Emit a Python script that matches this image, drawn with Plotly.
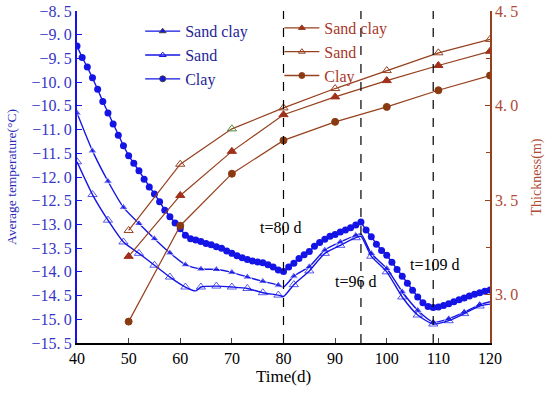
import plotly.graph_objects as go

# ---------------- data ----------------
# Average temperature (left axis)
clay_t = list(range(40, 121))
clay_temp = [-9.24, -9.48, -9.68, -9.91, -10.15, -10.41, -10.65, -10.88, -11.12, -11.34,
             -11.55, -11.71, -11.87, -12.05, -12.21, -12.36, -12.52, -12.70, -12.84, -12.97,
             -13.09, -13.23, -13.30, -13.33, -13.36, -13.40, -13.43, -13.47, -13.50, -13.56,
             -13.61, -13.66, -13.70, -13.74, -13.77, -13.79, -13.81, -13.85, -13.90, -13.96,
             -13.99, -13.90, -13.82, -13.72, -13.64, -13.57, -13.46, -13.38, -13.31, -13.25,
             -13.21, -13.16, -13.12, -13.07, -13.01, -12.95, -13.12, -13.26, -13.42, -13.55,
             -13.65, -13.80, -13.95, -14.09, -14.24, -14.39, -14.53, -14.65, -14.73, -14.75,
             -14.74, -14.71, -14.67, -14.63, -14.59, -14.55, -14.51, -14.47, -14.44, -14.41,
             -14.38]

sandclay_t = [40, 43, 46, 49, 52, 55, 58, 61, 64, 67, 70, 73, 76, 79, 80, 82, 85, 88, 91, 94, 95,
              97, 100, 103, 106, 109, 112, 115, 118, 120]
sandclay_temp = [-10.65, -11.45, -12.09, -12.64, -12.98, -13.30, -13.60, -13.85, -13.94, -13.95,
                 -14.01, -14.11, -14.20, -14.28, -14.32, -14.09, -13.89, -13.54, -13.37, -13.23,
                 -13.20, -13.61, -13.93, -14.42, -14.81, -15.06, -14.99, -14.85, -14.69, -14.63]

sand_t = [40, 43, 46, 49, 52, 55, 58, 61, 63, 64, 67, 70, 73, 76, 79, 80, 82, 85, 88, 91, 94, 95,
          97, 100, 103, 106, 109, 112, 115, 118, 120]
sand_temp = [-11.68, -12.37, -12.91, -13.37, -13.61, -13.86, -14.11, -14.32, -14.40, -14.32,
             -14.30, -14.32, -14.35, -14.44, -14.49, -14.52, -14.27, -13.98, -13.61, -13.44,
             -13.28, -13.25, -13.67, -14.00, -14.53, -14.91, -15.10, -15.03, -14.88, -14.72,
             -14.68]

# Thickness (right axis)
thick_t = [50, 60, 70, 80, 90, 100, 110, 120]
thick_sandclay = [3.203, 3.525, 3.758, 3.952, 4.046, 4.132, 4.212, 4.287]
thick_sand = [3.34, 3.69, 3.877, 3.988, 4.09, 4.185, 4.279, 4.35]
thick_clay = [2.858, 3.365, 3.64, 3.816, 3.914, 3.993, 4.081, 4.159]

series_names = ["Sand clay", "Sand", "Clay"]
events = [80, 95, 109]
event_labels = ["t=80 d", "t=96 d", "t=109 d"]

left_ticks = [-15.5 + 0.5 * i for i in range(15)]
right_ticks = [3.0, 3.5, 4.0, 4.5]
right_minor = [3.25, 3.75, 4.25]
x_ticks = [40, 50, 60, 70, 80, 90, 100, 110, 120]

# ---------------- style ----------------
BLUE = "#1414e6"
BROWN = "#96401e"
BROWN_TXT = "#a8382a"
SERIF = "Liberation Serif"

def marker_sizes(ts, size, hidden):
    return [0 if t in hidden else size for t in ts]

def fmt(v):
    s = f"{abs(v):.1f}".replace(".", ".\u2009")
    return ("\u2212" + s) if v < 0 else s

fig = go.Figure()

# data traces (left axis)
fig.add_trace(go.Scatter(
    x=sandclay_t, y=sandclay_temp, mode="lines+markers", showlegend=False,
    line=dict(color=BLUE, width=1.4, shape="spline", smoothing=0.6),
    marker=dict(symbol="triangle-up", size=marker_sizes(sandclay_t, 8, [80, 95, 120]), color=BLUE)))
fig.add_trace(go.Scatter(
    x=sand_t, y=sand_temp, mode="lines+markers", showlegend=False,
    line=dict(color=BLUE, width=1.4, shape="spline", smoothing=0.6),
    marker=dict(symbol="triangle-up-open", size=marker_sizes(sand_t, 8, [63, 80, 95, 120]),
                color=BLUE, line=dict(width=1))))
fig.add_trace(go.Scatter(
    x=clay_t, y=clay_temp, mode="lines+markers", showlegend=False,
    line=dict(color=BLUE, width=1.4),
    marker=dict(symbol="circle", size=7, color=BLUE)))

# data traces (right axis)
brown_fill = ["#a0301a", BROWN, "#8a3a10"]
brown_sym = ["triangle-up", "triangle-up-open", "circle"]
sand_edge = [BROWN, BROWN, "#4f8a3c", BROWN, BROWN, BROWN, BROWN, BROWN]
for ys, col, sym in zip([thick_sandclay, thick_sand, thick_clay], brown_fill, brown_sym):
    edge = sand_edge if sym == "triangle-up-open" else col
    fig.add_trace(go.Scatter(
        x=thick_t, y=ys, mode="lines+markers", yaxis="y2", showlegend=False,
        line=dict(color=BROWN, width=1.2),
        marker=dict(symbol=sym, size=8 if sym != "circle" else 7, color=edge,
                    line=dict(width=1, color=edge))))

# legend-only entries
blue_sym = ["triangle-up", "triangle-up-open", "circle"]
for nm, sym in zip(series_names, blue_sym):
    fig.add_trace(go.Scatter(x=[None], y=[None], name=nm, mode="lines+markers",
                             line=dict(color=BLUE, width=1.3),
                             marker=dict(symbol=sym, size=6, color=BLUE, line=dict(width=1)),
                             legend="legend"))
for nm, sym, col in zip(series_names, brown_sym, brown_fill):
    fig.add_trace(go.Scatter(x=[None], y=[None], name=nm, mode="lines+markers", yaxis="y2",
                             line=dict(color=BROWN, width=1.3),
                             marker=dict(symbol=sym, size=6, color=col, line=dict(width=1)),
                             legend="legend2"))

shapes = [dict(type="line", xref="x", yref="paper", x0=e, x1=e, y0=0, y1=1,
               line=dict(color="black", width=1.2, dash="dash")) for e in events]

ann_pos = [(79.5, -13.07), (93.85, -14.21), (109.3, -13.84)]
annotations = [dict(x=p[0], y=p[1], xref="x", yref="y", text=lab, showarrow=False,
                    font=dict(family=SERIF, size=16, color="black"))
               for lab, p in zip(event_labels, ann_pos)]

fig.update_layout(
    width=550, height=396,
    margin=dict(l=77, r=60, t=11, b=53, autoexpand=False),
    paper_bgcolor="white", plot_bgcolor="white",
    shapes=shapes, annotations=annotations,
    xaxis=dict(range=[40, 120], tickvals=x_ticks, ticks="inside", ticklen=5, automargin=False,
               showline=True, linecolor="black", linewidth=1.5, showgrid=False, zeroline=False,
               tickfont=dict(family=SERIF, size=16, color="black"),
               title=dict(text="Time(d)", font=dict(family=SERIF, size=17, color="black"), standoff=2)),
    yaxis=dict(range=[-15.5, -8.5], tickvals=left_ticks, ticktext=[fmt(v) for v in left_ticks],
               ticks="inside", ticklen=5, tickcolor=BLUE, automargin=False,
               ticklabeloverflow="allow",
               showline=True, linecolor=BLUE, linewidth=2, showgrid=False, zeroline=False,
               tickfont=dict(family=SERIF, size=16, color="#3535c8"),
               title=dict(text="Average temperature(\u00b0C)", font=dict(family=SERIF, size=13.5, color="#2a2ab8"),
                          standoff=12)),
    yaxis2=dict(range=[2.745, 4.5], tickvals=right_ticks, ticktext=[fmt(v) for v in right_ticks],
                overlaying="y", side="right", anchor="x", automargin=False,
                ticklabeloverflow="allow",
                ticks="inside", ticklen=5, tickcolor=BROWN,
                minor=dict(tickvals=right_minor, ticks="inside", ticklen=4, tickcolor=BROWN),
                showline=True, linecolor=BROWN, linewidth=1.5, showgrid=False, zeroline=False,
                tickfont=dict(family=SERIF, size=16, color="#b04a35"),
                title=dict(text="Thickness(m)", font=dict(family=SERIF, size=14, color="#b04a35"),
                           standoff=14)),
    legend=dict(x=0.153, y=0.99, xanchor="left", yanchor="top", bgcolor="rgba(0,0,0,0)",
                font=dict(family=SERIF, size=16, color="#1e1e96"), tracegroupgap=0,
                itemwidth=35),
    legend2=dict(x=0.49, y=1.0, xanchor="left", yanchor="top", bgcolor="rgba(0,0,0,0)",
                 font=dict(family=SERIF, size=16, color=BROWN_TXT), tracegroupgap=0,
                 itemwidth=35),
)

# remove the page's default 8px body margin so the 550x396 figure fills the window exactly
fig.write_html("out.html", config={"displayModeBar": False},
               post_script="document.body.style.margin='0';")
